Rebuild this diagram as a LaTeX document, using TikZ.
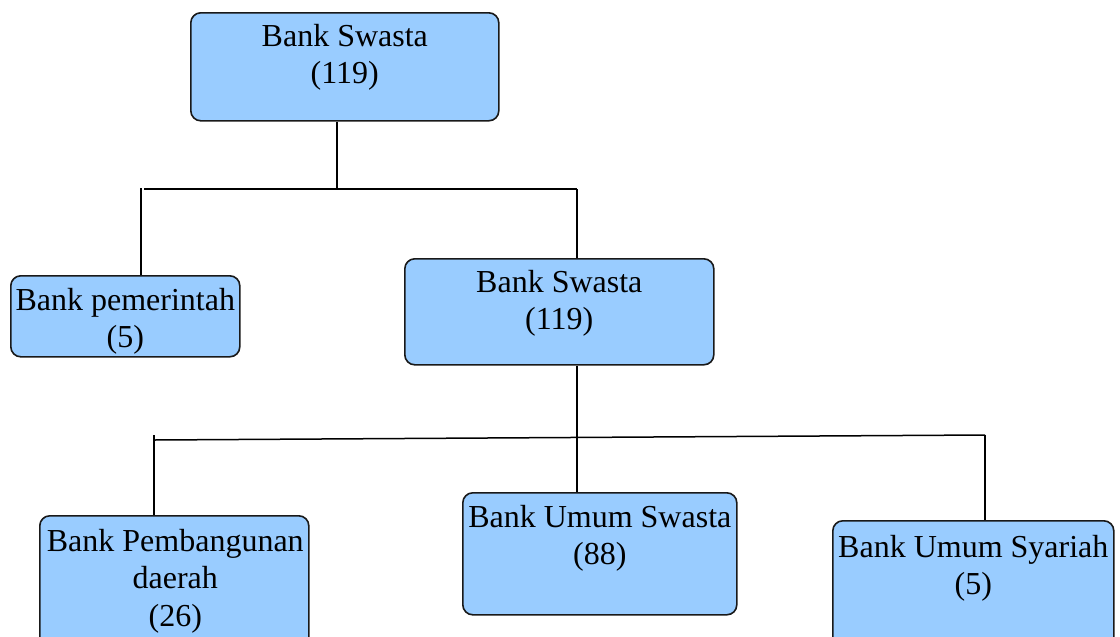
\documentclass[tikz,border=0pt]{standalone}
\usepackage{fontspec}
\setmainfont{Liberation Serif}
\newfontfamily\tnrfont{Liberation Serif}
\begin{document}
\begin{tikzpicture}[x=1pt,y=-1pt,
  box/.style={draw=black!90, line width=1.6pt, rounded corners=10pt, fill=boxblue, anchor=north west, inner sep=0pt},
  lbl/.style={anchor=north, align=center, inner sep=0pt, font=\tnrfont\fontsize{32}{37.5}\selectfont},
  conn/.style={draw=black, line width=1.5pt}]
\definecolor{boxblue}{RGB}{153,204,255}
\useasboundingbox (0,0) rectangle (1120,637);
% boxes
\node[box, minimum width=308pt, minimum height=108pt] (top) at (190,12) {};
\node[box, minimum width=229pt, minimum height=81pt] (pem) at (10,275) {};
\node[box, minimum width=309pt, minimum height=106pt] (mid) at (404,258) {};
\node[box, minimum width=269pt, minimum height=140pt] (pbd) at (39,515) {};
\node[box, minimum width=274pt, minimum height=122pt] (ums) at (462,492) {};
\node[box, minimum width=281pt, minimum height=135pt] (syr) at (832,520) {};
% texts
\node[lbl] (topT) at ([yshift=-12pt]top.north) {Bank Swasta\\(119)};
\node[lbl] (pemT) at ([yshift=-13pt]pem.north) {Bank pemerintah\\(5)};
\node[lbl] (midT) at ([yshift=-12pt]mid.north) {Bank Swasta\\(119)};
\node[lbl] (pbdT) at ([yshift=-14pt,xshift=1pt]pbd.north) {Bank Pembangunan\\daerah\\(26)};
\node[lbl] (umsT) at ([yshift=-13pt]ums.north) {Bank Umum Swasta\\(88)};
\node[lbl] (syrT) at ([yshift=-15pt]syr.north) {Bank Umum Syariah\\(5)};
% junction coordinates
\coordinate (j1) at (337,189);
\coordinate (h1l) at (144,189);
\coordinate (h1r) at (577,189);
\coordinate (v1l) at (141,188);
\coordinate (h2l) at (155,440);
\coordinate (h2r) at (985,435);
\coordinate (v2l) at (154,435);
\coordinate (v2m) at (577,437);
% connectors
\draw[conn] (j1 |- top.south) -- (j1);
\draw[conn] (h1l) -- (h1r);
\draw[conn] (v1l) -- (v1l |- pem.north);
\draw[conn] (h1r) -- (h1r |- mid.north);
\draw[conn] (v2m |- mid.south) -- (v2m |- ums.north);
\draw[conn] (h2l) -- (h2r);
\draw[conn] (v2l) -- (v2l |- pbd.north);
\draw[conn] (h2r) -- (h2r |- syr.north);
\end{tikzpicture}
\end{document}
